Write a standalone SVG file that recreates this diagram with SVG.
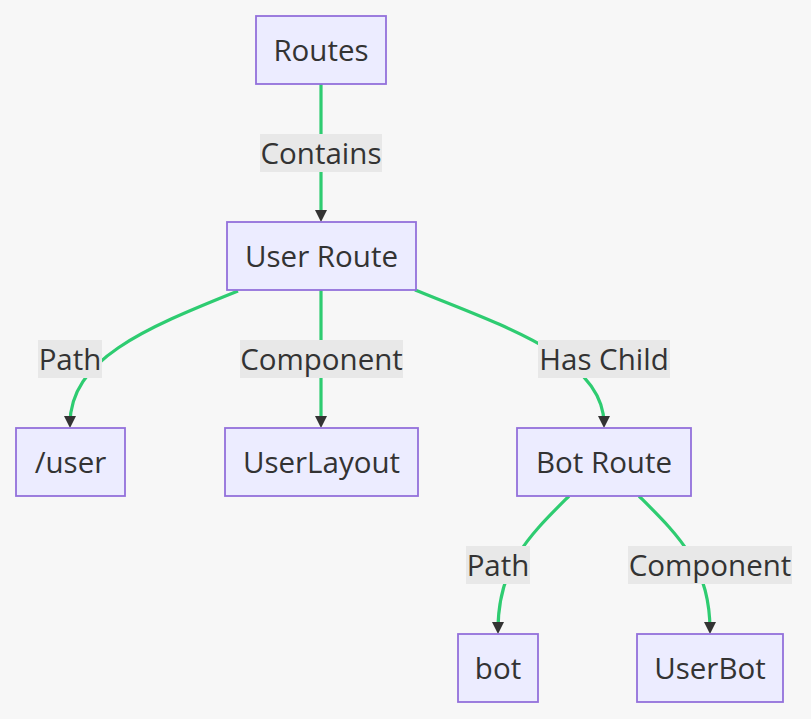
<svg xmlns="http://www.w3.org/2000/svg" width="811" height="719" viewBox="0 0 811 719">
<style>
.node rect{fill:#ECECFF;stroke:#9370DB;stroke-width:1.8}
text{font-family:"Open Sans","Noto Sans","DejaVu Sans",sans-serif;font-size:29.5px;fill:#333;text-anchor:middle}
.edge{fill:none;stroke:#2ecc71;stroke-width:3.2}
.lbl rect{fill:#e8e8e8}
</style>
<defs>
<marker id="arr" viewBox="0 0 10 10" refX="6.7" refY="5" markerUnits="userSpaceOnUse" markerWidth="12" markerHeight="12" orient="auto">
<path d="M0,0 L10,5 L0,10 z" fill="#333"/>
</marker>
</defs>
<rect width="811" height="719" fill="#f7f7f7"/>
<g id="edges">
<path class="edge" d="M321,84 L321,218" marker-end="url(#arr)"/>
<path class="edge" d="M238,291 C143,329 70,360 70,424" marker-end="url(#arr)"/>
<path class="edge" d="M321,290 L321,424" marker-end="url(#arr)"/>
<path class="edge" d="M415,290 C510,328 604,360 604,424" marker-end="url(#arr)"/>
<path class="edge" d="M569,496 C530,535 498,565 498,630" marker-end="url(#arr)"/>
<path class="edge" d="M639,496 C678,535 710,565 710,630" marker-end="url(#arr)"/>
</g>
<g id="edge-labels">
<g class="lbl"><rect x="260" y="134" width="122" height="38"/><text x="321" y="163.5">Contains</text></g>
<g class="lbl"><rect x="38" y="340" width="64" height="38"/><text x="70" y="369.5">Path</text></g>
<g class="lbl"><rect x="240" y="340" width="163" height="38"/><text x="321.5" y="369.5">Component</text></g>
<g class="lbl"><rect x="538" y="340" width="132" height="38"/><text x="604" y="369.5">Has Child</text></g>
<g class="lbl"><rect x="466" y="546" width="64" height="38"/><text x="498" y="575.5">Path</text></g>
<g class="lbl"><rect x="628" y="546" width="164" height="38"/><text x="710" y="575.5">Component</text></g>
</g>
<g id="routes" class="node"><rect x="256" y="16" width="130" height="68"/><text x="321" y="60.5">Routes</text></g>
<g id="userRoute" class="node"><rect x="227" y="222" width="189" height="68"/><text x="321.5" y="266.5">User Route</text></g>
<g id="userPath" class="node"><rect x="16" y="428" width="109" height="68"/><text x="70.5" y="472.5">/user</text></g>
<g id="userLayout" class="node"><rect x="225" y="428" width="193" height="68"/><text x="321.5" y="472.5">UserLayout</text></g>
<g id="botRoute" class="node"><rect x="517" y="428" width="174" height="68"/><text x="604" y="472.5">Bot Route</text></g>
<g id="botPath" class="node"><rect x="458" y="634" width="80" height="68"/><text x="498" y="678.5">bot</text></g>
<g id="userBot" class="node"><rect x="637" y="634" width="146" height="68"/><text x="710" y="678.5">UserBot</text></g>
</svg>
